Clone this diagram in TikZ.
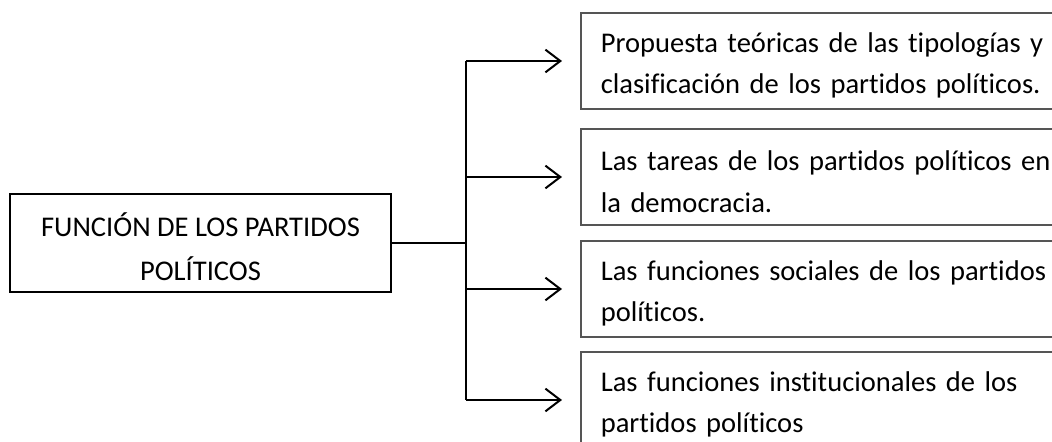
\documentclass[tikz,border=0pt]{standalone}
\usepackage{fontspec}
\setmainfont{Carlito}[Ligatures=NoCommon]
\usetikzlibrary{arrows.meta}
\definecolor{boxgray}{RGB}{85,85,85}

\begin{document}
\begin{tikzpicture}[x=0.375pt,y=-0.375pt]
  \tikzstyle{TitleBox}=[draw,line width=0.75pt,minimum width=142.9pt,minimum height=36.75pt,align=center,font=\fontsize{10.7}{16.5}\selectfont]
  \tikzstyle{ItemBox}=[draw=boxgray,line width=0.6pt,anchor=west,text width=180pt,inner xsep=7.5pt,minimum height=36pt,align=left,font=\fontsize{10.7}{15.5}\selectfont]
  \tikzstyle{Branch}=[line width=0.75pt,-{Straight Barb[length=5.6pt,width=8.5pt,line width=0.75pt]},shorten >=6.75pt]
  \useasboundingbox (0,0) rectangle (1052,442);
  \clip (0,0) rectangle (1052,442);
  \node[TitleBox] (funcion) at (200.5,243) {\strut FUNCIÓN DE LOS PARTIDOS\\POLÍTICOS};
  \node[ItemBox] (tipologias) at (580,61) {\strut Propuesta teóricas de las tipologías y\\clasificación de los partidos políticos.};
  \node[ItemBox] (tareas) at (580,177) {\strut Las tareas de los partidos políticos en\\la democracia.};
  \node[ItemBox] (sociales) at (580,289) {\strut Las funciones sociales de los partidos\\políticos.};
  \node[ItemBox] (institucionales) at (580,400) {\strut Las funciones institucionales de los\\partidos políticos};
  \coordinate (fork) at (466,243);
  \draw[line width=0.75pt] (funcion.east) -- (fork);
  \draw[line width=0.75pt] (fork |- tipologias.west) -- (fork |- institucionales.west);
  \foreach \n in {tipologias,tareas,sociales,institucionales}
    \draw[Branch] (fork |- \n.west) -- (\n.west);
\end{tikzpicture}
\end{document}
